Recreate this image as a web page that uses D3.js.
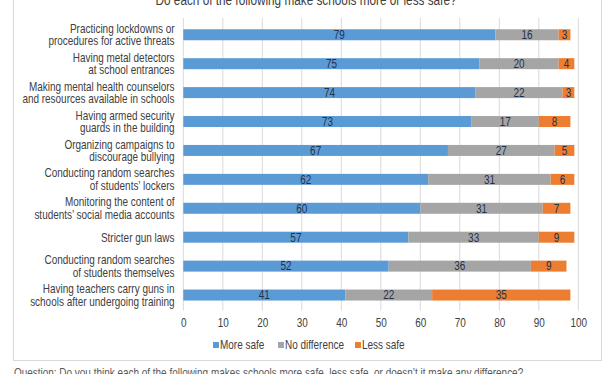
<!DOCTYPE html>
<html><head><meta charset="utf-8">
<script src="https://cdn.jsdelivr.net/npm/d3@7"></script>
<style>body{margin:0;background:#fff}svg{display:block}</style>
</head><body>
<svg id="c" width="612" height="374"></svg>
<script>
const categories = [
  ["Practicing lockdowns or","procedures for active threats"],
  ["Having metal detectors","at school entrances"],
  ["Making mental health counselors","and resources available in schools"],
  ["Having armed security","guards in the building"],
  ["Organizing campaigns to","discourage bullying"],
  ["Conducting random searches","of students\u2019 lockers"],
  ["Monitoring the content of","students\u2019 social media accounts"],
  ["Stricter gun laws"],
  ["Conducting random searches","of students themselves"],
  ["Having teachers carry guns in","schools after undergoing training"]
];
const moreSafe     = [79,75,74,73,67,62,60,57,52,41];
const noDifference = [16,20,22,17,27,31,31,33,36,22];
const lessSafe     = [3,4,3,8,5,6,7,9,9,35];
const seriesNames  = ["More safe","No difference","Less safe"];
const xTicks       = [0,10,20,30,40,50,60,70,80,90,100];
const titleText  = "Do each of the following make schools more or less safe?";
const footerText = "Question: Do you think each of the following makes schools more safe, less safe, or doesn\u2019t it make any difference?";

const colors = ["#5B9BD5","#A5A5A5","#ED7D31"];
const FONT = "'Liberation Sans',Arial,sans-serif";
const SX = 0.83; // narrow-font look

const svg = d3.select("#c");
svg.append("rect").attr("x",13.5).attr("y",-20).attr("width",588).attr("height",380.5)
  .attr("fill","#fff").attr("stroke","#D9D9D9");

const x = d3.scaleLinear().domain([0,100]).range([183.3,578.3]);
const idx = d3.range(categories.length);
const y = d3.scaleBand().domain(idx).range([20.3,309.5]).paddingInner(0.62).paddingOuter(0.31);

function ntext(parent, tx, ty, size){
  return parent.append("g").attr("transform",`translate(${tx},${ty}) scale(${SX},1)`)
    .append("text").attr("font-family",FONT).attr("font-size",size);
}

// gridlines
svg.append("g").selectAll("line").data(xTicks).join("line")
  .attr("x1",d=>x(d)).attr("x2",d=>x(d)).attr("y1",18).attr("y2",310.5)
  .attr("stroke","#D9D9D9").attr("stroke-width",1);

// stacked data
const rows = idx.map(i=>({i, "More safe":moreSafe[i], "No difference":noDifference[i], "Less safe":lessSafe[i]}));
const stack = d3.stack().keys(seriesNames)(rows);

const g = svg.append("g");
stack.forEach((s,k)=>{
  g.append("g").selectAll("rect").data(s).join("rect")
    .attr("x",d=>x(d[0])).attr("width",d=>x(d[1])-x(d[0]))
    .attr("y",d=>y(d.data.i)).attr("height",y.bandwidth())
    .attr("fill",colors[k]);
  const lg = g.append("g");
  s.forEach(d=>{
    ntext(lg,(x(d[0])+x(d[1]))/2, y(d.data.i)+y.bandwidth()/2, 12)
      .attr("dy","0.36em").attr("text-anchor","middle").attr("fill","#22324A")
      .text(d[1]-d[0]);
  });
});

// category labels
const lab = svg.append("g");
categories.forEach((lines,i)=>{
  const cy = y(i)+y.bandwidth()/2;
  const n = lines.length, lh = 12.5;
  const t = ntext(lab,174.5,0,12).attr("text-anchor","end").attr("fill","#404040");
  lines.forEach((l,j)=>{
    t.append("tspan").attr("x",0).attr("y",cy+(j-(n-1)/2)*lh).attr("dy","0.36em").text(l);
  });
});

// x axis
const ax = svg.append("g").attr("transform","translate(0,318)")
  .call(d3.axisBottom(x).tickValues(xTicks).tickSize(0).tickPadding(0));
ax.select(".domain").remove();
ax.selectAll("text").attr("font-family",FONT).attr("font-size",12).attr("fill","#404040")
  .attr("dy","0.71em").attr("transform",`scale(${SX},1)`);

// title
ntext(svg,306,5,14.2).attr("text-anchor","middle").attr("fill","#404040").text(titleText);

// legend
const legX = [213,278,355];
const lgd = svg.append("g");
seriesNames.forEach((n,k)=>{
  lgd.append("rect").attr("x",legX[k]).attr("y",342).attr("width",6).attr("height",6).attr("fill",colors[k]);
  ntext(lgd,legX[k]+7,345,12).attr("dy","0.36em").attr("fill","#404040").text(n);
});

// footer
ntext(svg,14,376.5,12).attr("fill","#595959").text(footerText);
</script>
</body></html>
